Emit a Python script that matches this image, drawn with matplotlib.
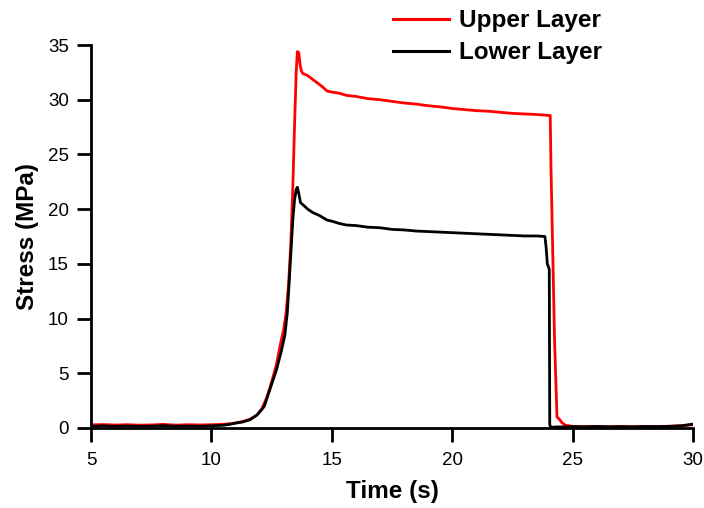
import matplotlib
matplotlib.use('Agg')
import matplotlib.pyplot as plt

plt.rcParams['font.family'] = ['Liberation Sans', 'DejaVu Sans']

# Upper layer (red) - time (s), stress (MPa)
t_upper = [5.0, 5.5, 6.0, 6.5, 7.0, 7.5, 8.0, 8.5, 9.0, 9.5, 10.0, 10.5, 10.8,
           11.0, 11.3, 11.6, 11.9, 12.1, 12.3, 12.5, 12.7, 12.85, 13.0, 13.1,
           13.2, 13.3, 13.38, 13.45, 13.52, 13.57, 13.63, 13.68, 13.74, 13.8,
           14.0, 14.3, 14.6, 14.8, 15.0, 15.3, 15.6, 16.0, 16.5, 17.0, 17.5,
           18.0, 18.5, 19.0, 19.5, 20.0, 20.5, 21.0, 21.5, 22.0, 22.5, 23.0,
           23.5, 23.8, 24.07, 24.1, 24.25, 24.35, 24.45, 24.55, 24.7, 25.0,
           25.5, 26.0, 26.5, 27.0, 27.5, 28.0, 28.5, 29.0, 29.5, 30.0]
s_upper = [0.29, 0.31, 0.27, 0.30, 0.26, 0.28, 0.33, 0.26, 0.30, 0.28, 0.30,
           0.34, 0.40, 0.45, 0.60, 0.80, 1.2, 1.8, 2.8, 4.2, 5.8, 7.5, 9.0,
           10.5, 13.0, 17.0, 22.0, 27.5, 32.5, 34.4, 34.3, 33.2, 32.6, 32.4,
           32.2, 31.7, 31.2, 30.8, 30.7, 30.6, 30.4, 30.3, 30.1, 30.0, 29.85,
           29.7, 29.6, 29.45, 29.35, 29.2, 29.1, 29.0, 28.95, 28.85, 28.75,
           28.7, 28.65, 28.6, 28.55, 24.0, 8.0, 1.0, 0.8, 0.5, 0.25, 0.15,
           0.12, 0.15, 0.12, 0.14, 0.12, 0.15, 0.13, 0.16, 0.2, 0.3]

# Lower layer (black)
t_lower = [5.0, 5.5, 6.0, 6.5, 7.0, 7.5, 8.0, 8.5, 9.0, 9.5, 10.0, 10.5, 10.8,
           11.0, 11.3, 11.6, 11.9, 12.1, 12.2, 12.35, 12.5, 12.7, 12.9, 13.05,
           13.15, 13.22, 13.3, 13.38, 13.45, 13.52, 13.57, 13.62, 13.7, 13.8,
           14.0, 14.2, 14.5, 14.8, 15.0, 15.3, 15.6, 16.0, 16.5, 17.0, 17.5,
           18.0, 18.5, 19.0, 19.5, 20.0, 20.5, 21.0, 21.5, 22.0, 22.5, 23.0,
           23.5, 23.85, 23.9, 23.95, 24.0, 24.03, 24.05, 24.1, 24.3, 24.6,
           25.0, 25.5, 26.0, 26.5, 27.0, 27.5, 28.0, 28.5, 29.0, 29.5, 30.0]
s_lower = [0.15, 0.20, 0.15, 0.18, 0.15, 0.17, 0.22, 0.16, 0.18, 0.15, 0.20,
           0.25, 0.35, 0.45, 0.55, 0.75, 1.2, 1.7, 2.0, 3.0, 4.0, 5.3, 7.0,
           8.5, 10.5, 13.0, 16.0, 19.0, 20.8, 21.8, 22.0, 21.5, 20.6, 20.4,
           20.0, 19.7, 19.4, 19.0, 18.9, 18.7, 18.55, 18.5, 18.35, 18.3, 18.15,
           18.1, 18.0, 17.95, 17.9, 17.85, 17.8, 17.75, 17.7, 17.65, 17.6,
           17.55, 17.55, 17.5, 16.5, 15.0, 14.7, 14.5, 0.3, 0.05, 0.1, 0.1,
           0.12, 0.1, 0.14, 0.1, 0.12, 0.1, 0.13, 0.12, 0.15, 0.2, 0.35]

xticks = [5, 10, 15, 20, 25, 30]
yticks = [0, 5, 10, 15, 20, 25, 30, 35]

fig = plt.figure(figsize=(7.04, 5.08), dpi=100)
ax = fig.add_axes([0.1293, 0.1575, 0.8551, 0.7539])

ax.plot(t_upper, s_upper, color='#ff0000', lw=2.0, label='Upper Layer')
ax.plot(t_lower, s_lower, color='black', lw=2.0, label='Lower Layer')

ax.set_xlim(5, 30)
ax.set_ylim(0, 35)
ax.set_xticks(xticks)
ax.set_yticks(yticks)
ax.tick_params(direction='out', length=10, width=2.0, labelsize=13.5)
ax.tick_params(axis='x', pad=7)
ax.tick_params(axis='y', pad=6)
for side in ['top', 'right']:
    ax.spines[side].set_visible(False)
for side in ['left', 'bottom']:
    ax.spines[side].set_linewidth(2.0)

ax.set_xlabel('Time (s)', fontsize=17.5, fontweight='bold', labelpad=8)
ax.set_ylabel('Stress (MPa)', fontsize=17.5, fontweight='bold', labelpad=6)

# legend sits above the plot area, no frame
leg = fig.legend(loc='upper left', bbox_to_anchor=(0.527, 1.025), frameon=False,
                 handlelength=2.3, handletextpad=0.4, labelspacing=0.38,
                 prop={'weight': 'bold', 'size': 17.5})
for h in leg.get_lines():
    h.set_linewidth(2.2)

plt.savefig('out.png', dpi=100)
plt.close()
